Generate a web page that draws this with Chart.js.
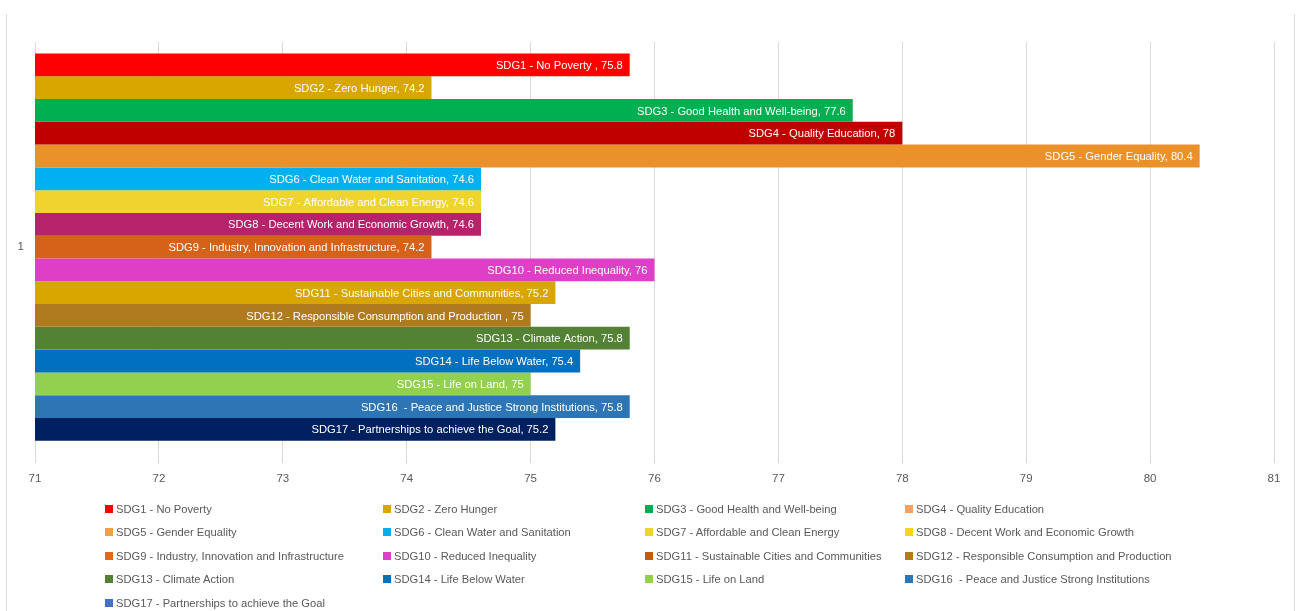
<!DOCTYPE html>
<html>
<head>
<meta charset="utf-8">
<script src="https://cdn.jsdelivr.net/npm/chart.js@4/dist/chart.umd.min.js"></script>
<style>
  body { margin: 0; background: #fff; font-family: 'Liberation Sans', sans-serif; }
  #frame { position: absolute; left: 6px; top: 14px; width: 1289px; height: 597px;
           border-left: 1px solid #d9d9d9; border-right: 1px solid #d9d9d9; box-sizing: border-box; }
  #box { position: absolute; left: 0; top: 0; width: 1287px; height: 485px; }
  #legend { position: absolute; left: 98px; top: 483px; display: grid;
            grid-template-columns: 278px 262px 260px 330px; grid-auto-rows: 23.5px;
            font-size: 11.2px; color: #595959; }
  .item { display: flex; align-items: center; white-space: pre; }
  .sw { width: 8px; height: 8px; margin-right: 3px; flex: none; }
</style>
</head>
<body>
<div id="frame">
  <div id="box"><canvas id="myChart"></canvas></div>
  <div id="legend"></div>
</div>
<script>
const categories = ['1'];
const goalNames = [
    'SDG1 - No Poverty ',
    'SDG2 - Zero Hunger',
    'SDG3 - Good Health and Well-being',
    'SDG4 - Quality Education',
    'SDG5 - Gender Equality',
    'SDG6 - Clean Water and Sanitation',
    'SDG7 - Affordable and Clean Energy',
    'SDG8 - Decent Work and Economic Growth',
    'SDG9 - Industry, Innovation and Infrastructure',
    'SDG10 - Reduced Inequality',
    'SDG11 - Sustainable Cities and Communities',
    'SDG12 - Responsible Consumption and Production ',
    'SDG13 - Climate Action',
    'SDG14 - Life Below Water',
    'SDG15 - Life on Land',
    'SDG16  - Peace and Justice Strong Institutions',
    'SDG17 - Partnerships to achieve the Goal'
];
const scores = [75.8, 74.2, 77.6, 78, 80.4, 74.6, 74.6, 74.6, 74.2, 76, 75.2, 75, 75.8, 75.4, 75, 75.8, 75.2];
const xTicks = [71, 72, 73, 74, 75, 76, 77, 78, 79, 80, 81];

const barColors = ['#FF0000', '#D9A600', '#00B050', '#C00000', '#EA912B', '#00B0F0', '#F0D42E', '#B5236A',
    '#D6621A', '#DE3FC6', '#D9A600', '#AF7B1E', '#548235', '#0070C0', '#92D050', '#2E75B6', '#002060'];
// the legend swatches in the original don't all match the bars
const legendColors = ['#FF0000', '#D9A600', '#00B050', '#F4A06A', '#F0A04A', '#00B0F0', '#F0D42E', '#F5D515',
    '#DD6A1F', '#DE3FC6', '#C55A11', '#B07C1E', '#548235', '#0070C0', '#92D050', '#2E75B6', '#4472C4'];

// white "name, value" text at the end of each bar
const barText = {
    id: 'barText',
    afterDatasetsDraw(chart) {
        const ctx = chart.ctx;
        ctx.save();
        ctx.fillStyle = '#ffffff';
        ctx.font = '11.2px "Liberation Sans", sans-serif';
        ctx.textAlign = 'right';
        ctx.textBaseline = 'middle';
        chart.data.datasets.forEach((ds, i) => {
            const bar = chart.getDatasetMeta(i).data[0];
            ctx.fillText(ds.label + ', ' + ds.data[0], bar.x - 7, bar.y + 1);
        });
        ctx.restore();
    }
};

const renderChart = () => {
    var ctx = document.getElementById('myChart').getContext('2d');
    var chart = new Chart(ctx, {
        type: 'bar',
        data: {
            labels: categories,
            datasets: goalNames.map((name, i) => ({
                label: name,
                data: [scores[i]],
                backgroundColor: barColors[i],
                borderWidth: 0,
                barPercentage: 1,
                categoryPercentage: 0.944
            }))
        },
        options: {
            indexAxis: 'y',
            responsive: true,
            maintainAspectRatio: false,
            animation: false,
            layout: { padding: { top: 28, right: 20, bottom: 4, left: 0 } },
            plugins: { legend: { display: false }, tooltip: { enabled: false } },
            scales: {
                x: {
                    min: xTicks[0],
                    max: xTicks[xTicks.length - 1],
                    afterBuildTicks: (scale) => { scale.ticks = xTicks.map(v => ({ value: v })); },
                    grid: { color: '#d9d9d9', tickLength: 11, tickColor: '#d9d9d9' },
                    border: { display: false },
                    ticks: { color: '#595959', padding: 9, font: { size: 11.5, family: '"Liberation Sans", sans-serif' } }
                },
                y: {
                    afterFit: (scale) => { scale.width = 28; },
                    grid: { display: false },
                    border: { display: false },
                    ticks: { color: '#595959', font: { size: 11.5, family: '"Liberation Sans", sans-serif' } }
                }
            }
        },
        plugins: [barText]
    });

    const legend = document.getElementById('legend');
    goalNames.forEach((name, i) => {
        const item = document.createElement('div');
        item.className = 'item';
        const sw = document.createElement('span');
        sw.className = 'sw';
        sw.style.background = legendColors[i];
        item.appendChild(sw);
        item.appendChild(document.createTextNode(name));
        legend.appendChild(item);
    });
};

renderChart();
</script>
</body>
</html>
